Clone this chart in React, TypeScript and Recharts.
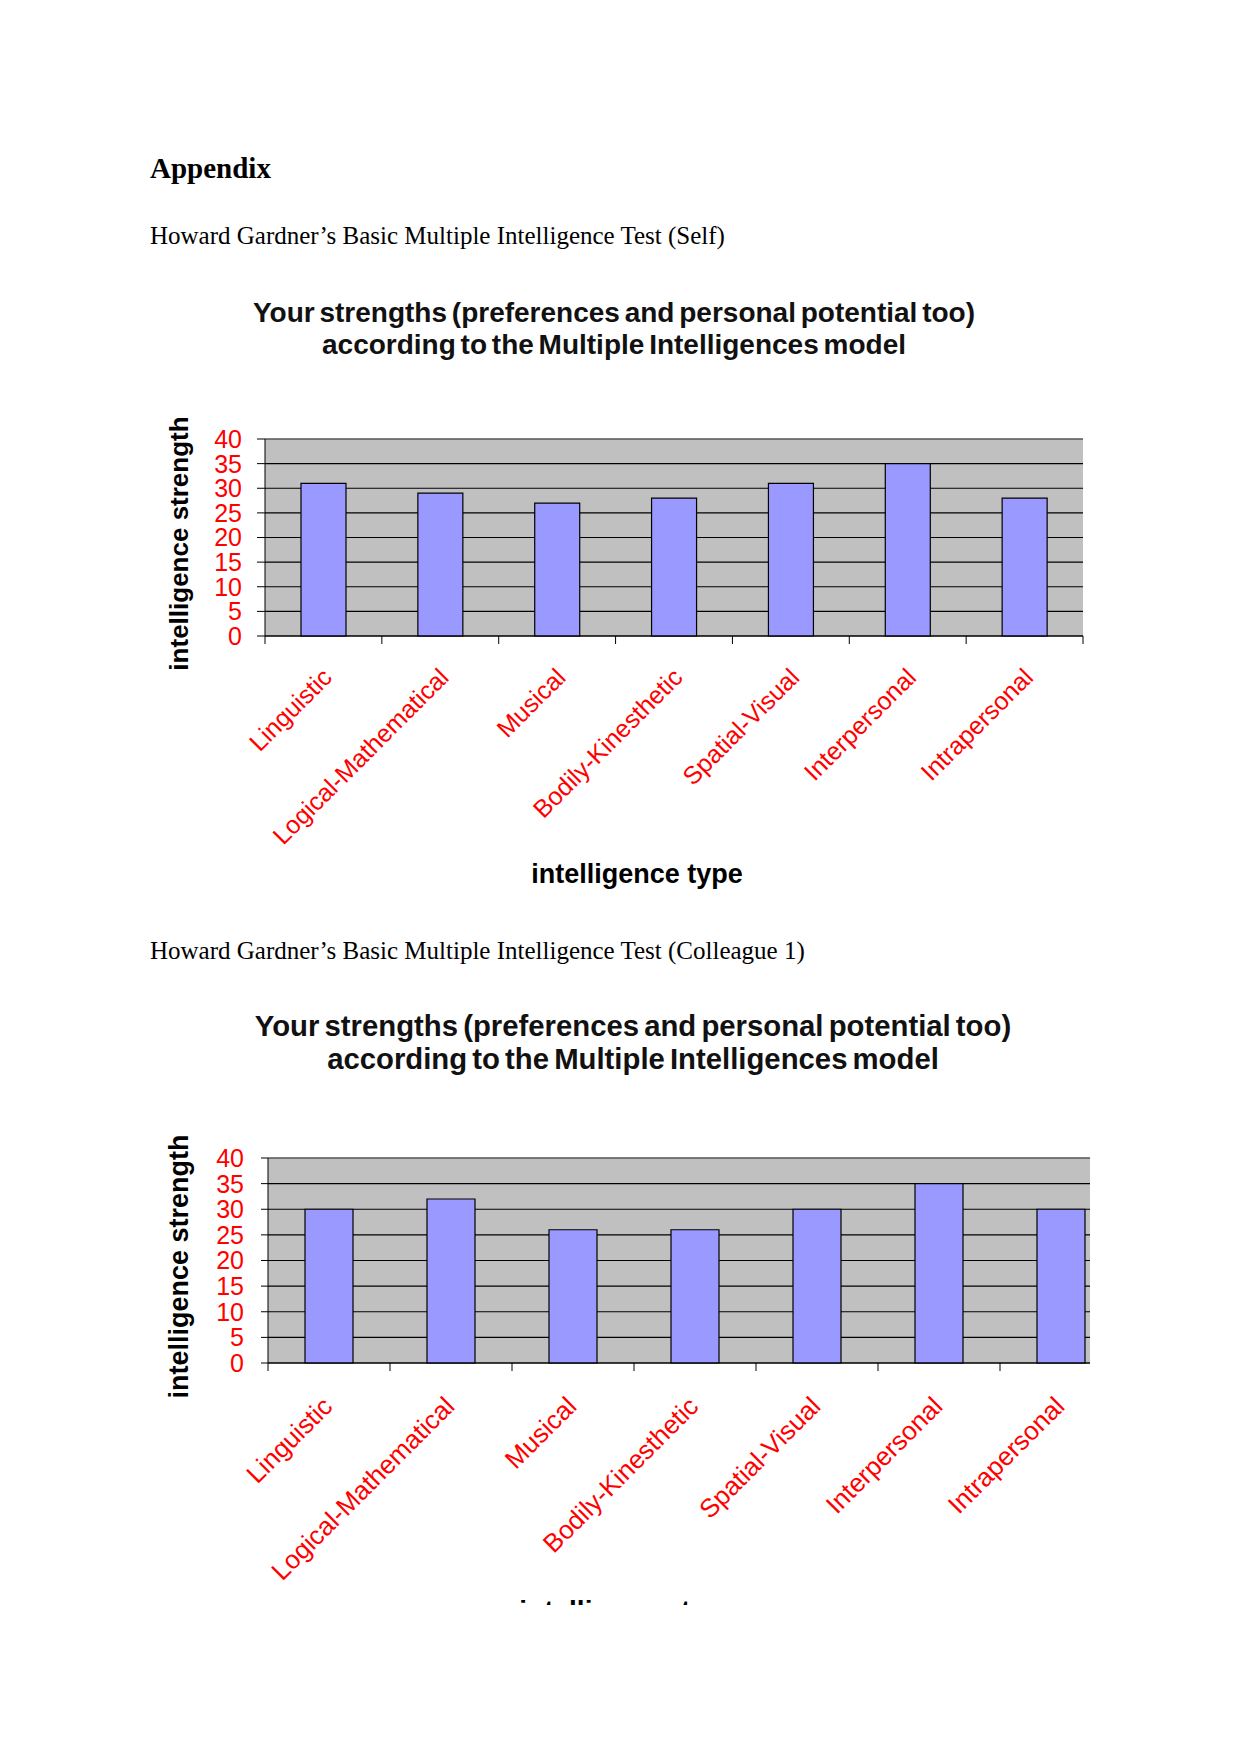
import React from 'react';
import { BarChart, Bar, XAxis, YAxis, CartesianGrid, Label, ReferenceLine } from 'recharts';

const categories = [
  'Linguistic',
  'Logical-Mathematical',
  'Musical',
  'Bodily-Kinesthetic',
  'Spatial-Visual',
  'Interpersonal',
  'Intrapersonal',
];
const selfScores = [31, 29, 27, 28, 31, 35, 28];
const colleagueScores = [30, 32, 26, 26, 30, 35, 30];
const yTicks = [0, 5, 10, 15, 20, 25, 30, 35, 40];

const titleLines = [
  'Your strengths (preferences and personal potential too)',
  'according to the Multiple Intelligences model',
];

const PAGE_FONT = '"Liberation Serif", "Times New Roman", serif';
const CHART_FONT = '"Liberation Sans", Arial, Helvetica, sans-serif';
const RED = '#FF0000';

type ChartProps = {
  scores: number[];
  width: number;
  height: number;
  top: number;
  right: number;
  yAxisWidth: number;
  xAxisHeight: number;
  barSize: number;
  tickFont: number;
  labelFont: number;
  titleFont: number;
  yTickSize: number;
  yTickMargin: number;
  labelDx: number;
  labelDy: number;
  xTitleDx: number;
  xTitleDy: number;
  yTitleX: number;
  yTitleDy: number;
};

const IntelligenceChart = (p: ChartProps) => {
  const data = categories.map((name, i) => ({ name, score: p.scores[i] }));
  const band = (p.width - p.yAxisWidth - p.right) / categories.length;

  const renderTick = (t: any) => {
    const { x, y, payload, index } = t;
    const ax = x + p.labelDx;
    const ay = y + p.labelDy;
    return (
      <g>
        <line x1={x - band / 2} y1={y} x2={x - band / 2} y2={y + 8} stroke="#000" />
        {index === categories.length - 1 && (
          <line x1={x + band / 2} y1={y} x2={x + band / 2} y2={y + 8} stroke="#000" />
        )}
        <text
          x={ax}
          y={ay}
          transform={`rotate(-45, ${ax}, ${ay})`}
          textAnchor="end"
          fill={RED}
          fontSize={p.labelFont}
          fontFamily={CHART_FONT}
        >
          {payload.value}
        </text>
      </g>
    );
  };

  return (
    <BarChart
      width={p.width}
      height={p.height}
      data={data}
      margin={{ top: p.top, right: p.right, left: 0, bottom: 0 }}
      style={{ fontFamily: CHART_FONT }}
    >
      <CartesianGrid fill="#C0C0C0" vertical={false} stroke="#000" strokeWidth={1.2} />
      <XAxis
        dataKey="name"
        interval={0}
        height={p.xAxisHeight}
        tickSize={0}
        tickMargin={0}
        tickLine={false}
        axisLine={{ stroke: '#000' }}
        tick={renderTick}
      >
        <Label
          content={(lp: any) => {
            const vb = lp.viewBox;
            return (
              <text
                x={vb.x + vb.width / 2 + p.xTitleDx}
                y={vb.y + p.xTitleDy}
                textAnchor="middle"
                dominantBaseline="central"
                fontSize={p.titleFont}
                fontWeight="bold"
                fontFamily={CHART_FONT}
                fill="#000"
              >
                intelligence type
              </text>
            );
          }}
        />
      </XAxis>
      <YAxis
        domain={[0, 40]}
        ticks={yTicks}
        interval={0}
        width={p.yAxisWidth}
        tickSize={p.yTickSize}
        tickMargin={p.yTickMargin}
        axisLine={{ stroke: '#000' }}
        tickLine={{ stroke: '#000' }}
        tick={{ fill: RED, fontSize: p.tickFont, fontFamily: CHART_FONT }}
      >
        <Label
          content={(lp: any) => {
            const vb = lp.viewBox;
            const cx = p.yTitleX;
            const cy = vb.y + vb.height / 2 + p.yTitleDy;
            return (
              <text
                x={cx}
                y={cy}
                transform={`rotate(-90, ${cx}, ${cy})`}
                textAnchor="middle"
                dominantBaseline="central"
                fontSize={p.titleFont - 1}
                fontWeight="bold"
                fontFamily={CHART_FONT}
                fill="#000"
              >
                intelligence strength
              </text>
            );
          }}
        />
      </YAxis>
      <YAxis
        yAxisId="frame"
        orientation="right"
        width={0}
        domain={[0, 40]}
        tick={false}
        tickLine={false}
        axisLine={{ stroke: '#808080' }}
      />
      <ReferenceLine y={40} stroke="#808080" strokeWidth={1.2} />
      <Bar
        dataKey="score"
        fill="#9999FF"
        stroke="#000"
        strokeWidth={1.2}
        barSize={p.barSize}
        isAnimationActive={false}
      />
    </BarChart>
  );
};

const ChartTitle = ({ cx, top, size, lh }: { cx: number; top: number; size: number; lh: number }) => (
  <div
    style={{
      position: 'absolute',
      left: cx - 500,
      top,
      width: 1000,
      textAlign: 'center',
      fontFamily: CHART_FONT,
      fontWeight: 'bold',
      fontSize: size,
      lineHeight: `${lh}px`,
      color: '#111',
      wordSpacing: -3,
    }}
  >
    {titleLines.map((t) => (
      <div key={t}>{t}</div>
    ))}
  </div>
);

export default function App() {
  return (
    <div
      style={{
        position: 'absolute',
        left: 0,
        top: 0,
        width: 1241,
        height: 1754,
        background: '#fff',
        overflow: 'hidden',
      }}
    >
      <div
        style={{
          position: 'absolute',
          left: 150,
          top: 152,
          fontFamily: PAGE_FONT,
          fontWeight: 'bold',
          fontSize: 29,
          lineHeight: '32px',
        }}
      >
        Appendix
      </div>
      <div
        style={{
          position: 'absolute',
          left: 150,
          top: 222,
          fontFamily: PAGE_FONT,
          fontSize: 25,
          lineHeight: '28px',
        }}
      >
        Howard Gardner’s Basic Multiple Intelligence Test (Self)
      </div>

      <ChartTitle cx={614} top={297} size={28} lh={32} />
      <div style={{ position: 'absolute', left: 150, top: 400 }}>
        <IntelligenceChart
          scores={selfScores}
          width={960}
          height={500}
          top={39}
          right={27}
          yAxisWidth={115}
          xAxisHeight={264}
          barSize={45}
          tickFont={25}
          labelFont={25}
          titleFont={27}
          yTickSize={8}
          yTickMargin={15}
          labelDx={10}
          labelDy={43}
          xTitleDx={-37}
          xTitleDy={238}
          yTitleX={29}
          yTitleDy={6}
        />
      </div>

      <div
        style={{
          position: 'absolute',
          left: 150,
          top: 937,
          fontFamily: PAGE_FONT,
          fontSize: 25,
          lineHeight: '28px',
        }}
      >
        Howard Gardner’s Basic Multiple Intelligence Test (Colleague 1)
      </div>

      <ChartTitle cx={633} top={1009} size={29.3} lh={33} />
      <div
        style={{
          position: 'absolute',
          left: 150,
          top: 1120,
          width: 940,
          height: 485,
          overflow: 'hidden',
        }}
      >
        <IntelligenceChart
          scores={colleagueScores}
          width={1000}
          height={523}
          top={38}
          right={28}
          yAxisWidth={118}
          xAxisHeight={280}
          barSize={48}
          tickFont={25}
          labelFont={26}
          titleFont={28}
          yTickSize={7}
          yTickMargin={17}
          labelDx={5}
          labelDy={45}
          xTitleDx={-66}
          xTitleDy={247}
          yTitleX={29}
          yTitleDy={6}
        />
      </div>
    </div>
  );
}
